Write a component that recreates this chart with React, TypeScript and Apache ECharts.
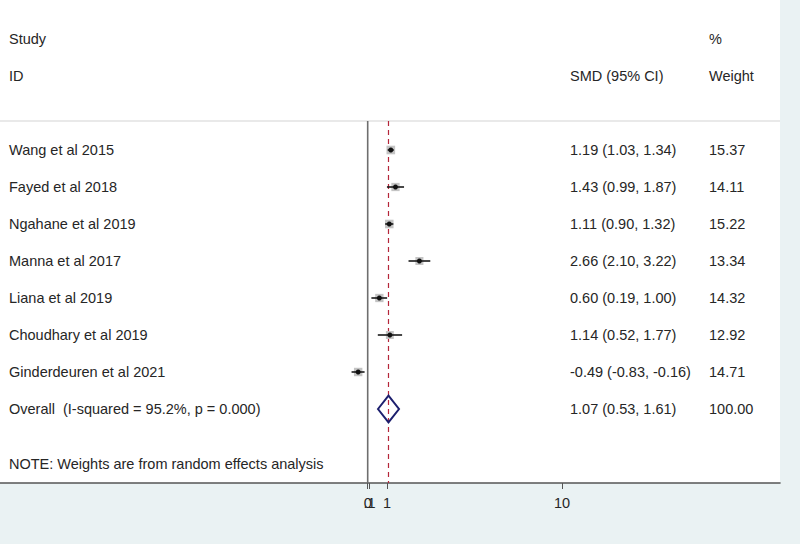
import React, { useEffect, useRef } from "react";
import * as echarts from "echarts";

const studies = [
  "Wang et al 2015",
  "Fayed et al 2018",
  "Ngahane et al 2019",
  "Manna et al 2017",
  "Liana et al 2019",
  "Choudhary et al 2019",
  "Ginderdeuren et al 2021",
];
const smd = [1.19, 1.43, 1.11, 2.66, 0.6, 1.14, -0.49];
const lower = [1.03, 0.99, 0.9, 2.1, 0.19, 0.52, -0.83];
const upper = [1.34, 1.87, 1.32, 3.22, 1.0, 1.77, -0.16];
const weights = [15.37, 14.11, 15.22, 13.34, 14.32, 12.92, 14.71];

const overallLabel = "Overall  (I-squared = 95.2%, p = 0.000)";
const overallEst = 1.07;
const overallLower = 0.53;
const overallUpper = 1.61;
const overallWeight = 100.0;

const noteText = "NOTE: Weights are from random effects analysis";
const headerStudy = ["Study", "ID"];
const headerEffect = "SMD (95% CI)";
const headerWeight = ["%", "Weight"];

const tickValues = [0, 0.1, 1, 10];
const tickLabels = ["0", ".1", "1", "10"];
const nullValue = 0;

// layout constants
const ROW_TOP = -4.054;
const ROW_BOTTOM = 9;
const X_MIN = -18.915;
const X_MAX = 21.21;
const COL_STUDY = 9;
const COL_EFFECT = 570;
const COL_WEIGHT = 709;
const FONT = "'Liberation Sans', Arial, sans-serif";
const FONT_SIZE = 14.5;
const TEXT_COLOR = "#262626";

const fmt = (v: number) => v.toFixed(2);

type TextRow = { row: number; texts: [number, string][] };

const textRows: TextRow[] = [
  { row: -3, texts: [[COL_STUDY, headerStudy[0]], [COL_WEIGHT, headerWeight[0]]] },
  {
    row: -2,
    texts: [
      [COL_STUDY, headerStudy[1]],
      [COL_EFFECT, headerEffect],
      [COL_WEIGHT, headerWeight[1]],
    ],
  },
  ...studies.map((s, i) => ({
    row: i,
    texts: [
      [COL_STUDY, s],
      [COL_EFFECT, `${fmt(smd[i])} (${fmt(lower[i])}, ${fmt(upper[i])})`],
      [COL_WEIGHT, fmt(weights[i])],
    ] as [number, string][],
  })),
  {
    row: studies.length,
    texts: [
      [COL_STUDY, overallLabel],
      [COL_EFFECT, `${fmt(overallEst)} (${fmt(overallLower)}, ${fmt(overallUpper)})`],
      [COL_WEIGHT, fmt(overallWeight)],
    ],
  },
  { row: studies.length + 1.5, texts: [[COL_STUDY, noteText]] },
];

const labelFor = (v: number) => {
  const i = tickValues.findIndex((t) => Math.abs(t - v) < 1e-9);
  return i >= 0 ? tickLabels[i] : "";
};

export default function App() {
  const ref = useRef<HTMLDivElement>(null);
  useEffect(() => {
    if (!ref.current) return;
    const chart = echarts.init(ref.current, null, { renderer: "svg" });
    const lineTop = -0.784;
    const labelStyle = {
      show: true,
      margin: 12,
      color: TEXT_COLOR,
      fontFamily: FONT,
      fontSize: FONT_SIZE,
      interval: 0,
      hideOverlap: false,
      formatter: labelFor,
    };
    const option: any = {
      animation: false,
      backgroundColor: "#eaf2f3",
      grid: {
        left: 0,
        right: 20,
        top: 0,
        bottom: 61,
        show: true,
        backgroundColor: "#ffffff",
        borderWidth: 0,
      },
      xAxis: [
        {
          type: "value",
          position: "bottom",
          min: X_MIN,
          max: X_MAX,
          splitLine: { show: false },
          axisLine: { show: true, onZero: false, lineStyle: { color: "#555555", width: 1.6 } },
          axisTick: {
            show: true,
            length: 6,
            customValues: tickValues,
            lineStyle: { color: "#555555", width: 1 },
          },
          axisLabel: { ...labelStyle, customValues: tickValues.slice(1) },
        },
        {
          type: "value",
          position: "bottom",
          min: X_MIN,
          max: X_MAX,
          splitLine: { show: false },
          axisLine: { show: false, onZero: false },
          axisTick: { show: false },
          axisLabel: { ...labelStyle, customValues: tickValues.slice(0, 1) },
        },
      ],
      yAxis: {
        type: "value",
        inverse: true,
        min: ROW_TOP,
        max: ROW_BOTTOM,
        show: false,
      },
      series: [
        {
          type: "custom",
          name: "lines",
          data: [[0, 0]],
          silent: true,
          z: 1,
          renderItem: (params: any, api: any) => {
            const l = api.coord([X_MIN, lineTop]);
            const r = api.coord([X_MAX, lineTop]);
            const nt = api.coord([nullValue, lineTop]);
            const nb = api.coord([nullValue, ROW_BOTTOM]);
            const ot = api.coord([overallEst, lineTop]);
            const ob = api.coord([overallEst, ROW_BOTTOM]);
            return {
              type: "group",
              children: [
                {
                  type: "line",
                  shape: { x1: l[0], y1: l[1], x2: r[0], y2: r[1] },
                  style: { stroke: "#e2e2e2", lineWidth: 1.5 },
                },
                {
                  type: "line",
                  shape: { x1: nt[0], y1: nt[1], x2: nb[0], y2: nb[1] },
                  style: { stroke: "#6e6e6e", lineWidth: 1.6 },
                },
                {
                  type: "line",
                  shape: { x1: ot[0], y1: ot[1], x2: ob[0], y2: ob[1] },
                  style: { stroke: "#b5263a", lineWidth: 1.2, lineDash: [5, 4] },
                },
              ],
            };
          },
        },
        {
          type: "custom",
          name: "studies",
          z: 3,
          data: studies.map((_, i) => [smd[i], i, lower[i], upper[i], weights[i]]),
          renderItem: (params: any, api: any) => {
            const row = api.value(1);
            const c = api.coord([api.value(0), row]);
            const lo = api.coord([api.value(2), row]);
            const hi = api.coord([api.value(3), row]);
            const s = Math.sqrt(api.value(4)) * 2.2;
            return {
              type: "group",
              children: [
                {
                  type: "rect",
                  shape: { x: c[0] - s / 2, y: c[1] - s / 2, width: s, height: s },
                  style: { fill: "#c4c4c4" },
                },
                {
                  type: "line",
                  shape: { x1: lo[0], y1: lo[1], x2: hi[0], y2: hi[1] },
                  style: { stroke: "#1a1a1a", lineWidth: 1.6 },
                },
                {
                  type: "circle",
                  shape: { cx: c[0], cy: c[1], r: 2.5 },
                  style: { fill: "#111111" },
                },
              ],
            };
          },
        },
        {
          type: "custom",
          name: "overall",
          z: 3,
          data: [[overallEst, studies.length, overallLower, overallUpper]],
          renderItem: (params: any, api: any) => {
            const row = api.value(1);
            const c = api.coord([api.value(0), row]);
            const t = api.coord([api.value(0), row - 0.36]);
            const b = api.coord([api.value(0), row + 0.36]);
            const lo = api.coord([api.value(2), row]);
            const hi = api.coord([api.value(3), row]);
            return {
              type: "polygon",
              shape: {
                points: [
                  [lo[0], c[1]],
                  [t[0], t[1]],
                  [hi[0], c[1]],
                  [b[0], b[1]],
                ],
              },
              style: { fill: "none", stroke: "#1c1f6e", lineWidth: 2 },
            };
          },
        },
        {
          type: "custom",
          name: "texts",
          z: 4,
          data: textRows.map((r, i) => [0, r.row, i]),
          renderItem: (params: any, api: any) => {
            const tr = textRows[api.value(2)];
            const y = api.coord([0, api.value(1)])[1];
            return {
              type: "group",
              children: tr.texts.map(([x, str]) => ({
                type: "text",
                x,
                y,
                style: {
                  text: str,
                  fill: TEXT_COLOR,
                  font: `${FONT_SIZE}px ${FONT}`,
                  textAlign: "left",
                  textVerticalAlign: "middle",
                  verticalAlign: "middle",
                },
              })),
            };
          },
        },
      ],
    };
    chart.setOption(option);
    return () => chart.dispose();
  }, []);
  return (
    <div
      ref={ref}
      style={{ position: "fixed", left: 0, top: 0, width: 800, height: 544 }}
    />
  );
}
